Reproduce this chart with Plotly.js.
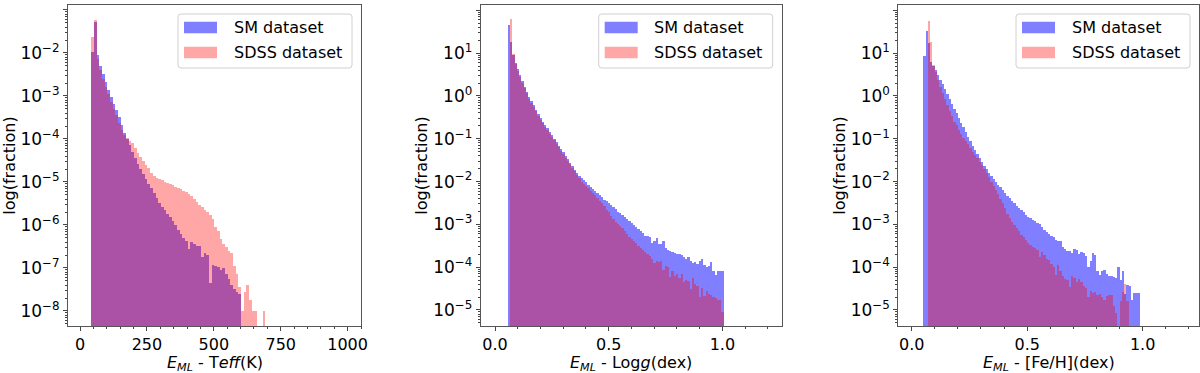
<!DOCTYPE html>
<html>
<head>
<meta charset="utf-8">
<script src="https://cdn.plot.ly/plotly-3.0.1.min.js"></script>
<style>
  html, body { margin: 0; padding: 0; background: #fff; }
  #chart { width: 1200px; height: 373px; }
</style>
</head>
<body>
<div id="chart"></div>
<script>
// bins of each histogram: start of first bin and bin width
const teffBinStart = 42, teffBinWidth = 10;
const loggBinStart = 0.056, loggBinWidth = 0.01;
const fehBinStart = 0.05, fehBinWidth = 0.01;

// log10(fraction) of every bin (null = empty bin)
const smTeff = [
  -1.98, -1.28, -2.05, -2.30, -2.50, -2.68, -2.85, -3.02, -3.18, -3.33,
  -3.50, -3.68, -3.85, -4.00, -4.15, -4.30, -4.45, -4.58, -4.70, -4.82,
  -4.93, -5.05, -5.15, -5.25, -5.38, -5.50, -5.58, -5.66, -5.74, -5.82,
  -5.90, -6.00, -6.12, -6.20, -6.30, -6.38, -6.55, -6.40, -6.45, -6.48,
  -6.50, -6.75, -6.65, -6.70, -7.35, -6.93, -6.95, -6.97, -7.05, -7.00,
  -7.15, -7.25, -7.40, -7.50, -7.55, -7.60
];
const sdssTeff = [
  -1.63, -1.24, -2.15, -2.40, -2.60, -2.78, -2.95, -3.13, -3.30, -3.45,
  -3.62, -3.78, -3.90, -3.97, -4.04, -4.10, -4.20, -4.32, -4.42, -4.52,
  -4.60, -4.68, -4.78, -4.85, -4.90, -4.93, -4.96, -4.99, -5.02, -5.05,
  -5.08, -5.11, -5.14, -5.17, -5.20, -5.24, -5.28, -5.33, -5.40, -5.46,
  -5.53, -5.58, -5.64, -5.70, -5.76, -5.85, -6.05, -6.15, -6.33, -6.45,
  -6.52, -6.60, -6.66, -6.95, -7.15, -7.45, -8.00, -7.55, -7.40, -7.75,
  -8.00, -8.00, null, null, -8.00
];

const smLogg = [
   1.66,  1.25,  0.95,  0.78,  0.62,  0.48,  0.34,  0.22,  0.10, -0.02,
  -0.12, -0.22, -0.32, -0.42, -0.52, -0.60, -0.68, -0.76, -0.84, -0.92,
  -1.00, -1.08, -1.16, -1.24, -1.32, -1.40, -1.48, -1.56, -1.64, -1.72,
  -1.79, -1.86, -1.92, -1.97, -2.02, -2.07, -2.12, -2.17, -2.22, -2.27,
  -2.32, -2.37, -2.42, -2.46, -2.50, -2.55, -2.60, -2.65, -2.70, -2.74,
  -2.78, -2.83, -2.88, -2.93, -2.97, -3.01, -3.05, -3.10, -3.16, -3.21,
  -3.26, -3.28, -3.30, -3.44, -3.38, -3.33, -3.47, -3.45, -3.40, -3.55,
  -3.60, -3.62, -3.65, -3.68, -3.70, -3.70, -3.72, -3.76, -3.80, -3.77,
  -3.85, -3.90, -3.87, -3.92, -3.85, -3.82, -3.95, -4.00, -3.98, -3.87,
  -4.10, -4.18, -4.10, -4.10, -4.10
];
const sdssLogg = [
   null,  1.79,  0.97,  0.75,  0.58,  0.44,  0.30,  0.18,  0.06, -0.06,
  -0.16, -0.26, -0.36, -0.46, -0.56, -0.64, -0.72, -0.80, -0.88, -0.96,
  -1.04, -1.12, -1.20, -1.28, -1.36, -1.44, -1.52, -1.60, -1.68, -1.76,
  -1.84, -1.92, -2.00, -2.05, -2.10, -2.16, -2.21, -2.26, -2.31, -2.38,
  -2.45, -2.51, -2.58, -2.66, -2.72, -2.80, -2.88, -2.94, -2.99, -3.04,
  -3.09, -3.15, -3.22, -3.29, -3.34, -3.40, -3.44, -3.50, -3.56, -3.60,
  -3.65, -3.70, -3.74, -3.80, -3.91, -3.85, -3.88, -3.85, -4.07, -3.98,
  -4.00, -4.22, -4.10, -4.20, -4.15, -4.25, -4.15, -4.34, -4.30, -4.32,
  -4.50, -4.25, -4.40, -4.45, -4.69, -4.48, -4.68, -4.55, -4.62, -4.66,
  -4.70, -4.72, -4.77, -4.77, -5.04
];

const smFeh = [
   0.94,  1.51,  1.23,  0.80,  0.70,  0.60,  0.48,  0.38,  0.28,  0.17,
   0.04, -0.07, -0.18, -0.30, -0.40, -0.52, -0.63, -0.73, -0.84, -0.95,
  -1.05, -1.16, -1.26, -1.36, -1.46, -1.55, -1.63, -1.71, -1.80, -1.87,
  -1.93, -2.00, -2.07, -2.13, -2.19, -2.26, -2.33, -2.39, -2.45, -2.51,
  -2.57, -2.62, -2.67, -2.72, -2.77, -2.82, -2.86, -2.90, -2.93, -2.96,
  -2.98, -3.05, -3.12, -3.17, -3.22, -3.26, -3.29, -3.36, -3.38, -3.40,
  -3.52, -3.58, -3.62, -3.63, -3.66, -3.58, -3.60, -3.70, -3.64, -3.68,
  -3.75, -3.99, -3.85, -3.68, -3.72, -4.10, -4.18, -4.10, -4.07, -4.15,
  -4.20, -4.20, -4.22, -4.25, -3.99, -4.30, -4.10, -4.62, -4.42, -4.45,
  -4.77, -4.61, -4.61, -4.61
];
const sdssFeh = [
   null,  null,  1.75,  1.26,  0.72,  0.55,  0.38,  0.20,  0.06, -0.08,
  -0.22, -0.35, -0.47, -0.60, -0.68, -0.80, -0.90, -0.98, -1.06, -1.13,
  -1.21, -1.30, -1.38, -1.46, -1.54, -1.62, -1.70, -1.80, -1.90, -2.00,
  -2.10, -2.20, -2.30, -2.40, -2.50, -2.62, -2.75, -2.85, -2.95, -3.02,
  -3.08, -3.15, -3.24, -3.30, -3.37, -3.44, -3.48, -3.52, -3.56, -3.60,
  -3.76, -3.65, -3.72, -3.80, -3.83, -3.92, -4.00, -4.18, -3.96, -4.10,
  -4.20, -4.28, -4.30, -4.46, -4.20, -4.25, -4.35, -4.28, -4.35, -4.45,
  -4.48, -4.69, -4.55, -4.60, -4.58, -4.65, -4.62, -4.70, -4.77, -4.68,
  -4.65, -4.66, -4.90, -5.08,  null, -4.80, -4.58, -4.39, -4.80
];

const seriesNames = ['SM dataset', 'SDSS dataset'];
const xTitles = [
  '<i>E</i><sub><i>ML</i></sub> - T<i>eff</i>(K)',
  '<i>E</i><sub><i>ML</i></sub> - Log<i>g</i>(dex)',
  '<i>E</i><sub><i>ML</i></sub> - [Fe/H](dex)'
];

const SM_COLOR = 'rgba(0,0,255,0.5)';
const SDSS_COLOR = 'rgba(255,0,0,0.35)';
const FONT = 'DejaVu Sans, Liberation Sans, sans-serif';
const W = 1200, H = 373;
const MB = 47;            // bottom margin holds the x tick labels and titles
const PH = H - MB;        // plot-area height in px

function histTrace(logVals, start, width, color, axisIdx) {
  const sfx = axisIdx === 1 ? '' : axisIdx;
  return {
    type: 'bar',
    x: logVals.map((v, i) => start + width * (i + 0.5)),
    y: logVals.map(v => v === null ? null : Math.pow(10, v)),
    width: width,
    marker: { color: color, line: { width: 0 } },
    xaxis: 'x' + sfx,
    yaxis: 'y' + sfx,
    showlegend: false,
    hoverinfo: 'x+y'
  };
}

const data = [
  histTrace(smTeff, teffBinStart, teffBinWidth, SM_COLOR, 1),
  histTrace(sdssTeff, teffBinStart, teffBinWidth, SDSS_COLOR, 1),
  histTrace(smLogg, loggBinStart, loggBinWidth, SM_COLOR, 2),
  histTrace(sdssLogg, loggBinStart, loggBinWidth, SDSS_COLOR, 2),
  histTrace(smFeh, fehBinStart, fehBinWidth, SM_COLOR, 3),
  histTrace(sdssFeh, fehBinStart, fehBinWidth, SDSS_COLOR, 3)
];

// log tick labels 10^n
function logTicks(lo, hi) {
  const vals = [], text = [], minor = [];
  for (let p = lo; p <= hi; p++) {
    vals.push(Math.pow(10, p));
    text.push('10<sup>' + (p < 0 ? '\u2212' + (-p) : p) + '</sup>');
  }
  for (let p = lo - 1; p <= hi; p++) {
    for (let m = 2; m <= 9; m++) minor.push(m * Math.pow(10, p));
  }
  return { vals, text, minor };
}

const axisStyle = {
  showline: true,
  mirror: true,
  linecolor: '#555',
  linewidth: 1,
  showgrid: false,
  zeroline: false,
  ticks: 'outside',
  ticklen: 4,
  tickwidth: 1,
  tickcolor: '#444',
  tickfont: { family: FONT, size: 17, color: '#000' },
  fixedrange: true
};

function xAxis(domain, range, dtick, minorDtick, fmt) {
  return Object.assign({}, axisStyle, {
    domain: domain,
    range: range,
    tick0: 0,
    dtick: dtick,
    tickformat: fmt,
    tickfont: { family: FONT, size: 16, color: '#000' },
    minor: { ticks: 'outside', ticklen: 2, tickcolor: '#444', dtick: minorDtick, tick0: 0, showgrid: false }
  });
}

function yAxis(lo, hi, range, anchor) {
  const t = logTicks(lo, hi);
  return Object.assign({}, axisStyle, {
    type: 'log',
    domain: [0, 1 - 5 / PH],
    range: range,
    anchor: anchor,
    tickmode: 'array',
    tickvals: t.vals,
    ticktext: t.text,
    minor: { ticks: 'outside', ticklen: 2, tickcolor: '#444', tickmode: 'array', tickvals: t.minor, showgrid: false },
    title: { text: 'log(fraction)', font: { family: FONT, size: 16, color: '#000' } }
  });
}

const shapes = [], annotations = [];
function px(x) { return x / W; }
function py(y) { return 1 - y / PH; }

// x titles placed under each axes, centred on it
['x', 'x2', 'x3'].forEach((ax, i) => {
  annotations.push({
    xref: ax + ' domain', yref: 'paper',
    x: 0.5, y: py(363),
    xanchor: 'center', yanchor: 'middle',
    text: xTitles[i], showarrow: false,
    font: { family: FONT, size: 16, color: '#000' }
  });
});

// legend drawn per panel, placed against the right edge of its axes (px)
function addLegend(rightPx) {
  const x0 = rightPx - 183, x1 = rightPx - 9, y0 = 14, y1 = 68, r = 3;
  const p = (x, y) => px(x) + ',' + py(y);
  shapes.push({
    type: 'path', xref: 'paper', yref: 'paper',
    path: 'M' + p(x0 + r, y0) + ' L' + p(x1 - r, y0) + ' Q' + p(x1, y0) + ' ' + p(x1, y0 + r) +
          ' L' + p(x1, y1 - r) + ' Q' + p(x1, y1) + ' ' + p(x1 - r, y1) +
          ' L' + p(x0 + r, y1) + ' Q' + p(x0, y1) + ' ' + p(x0, y1 - r) +
          ' L' + p(x0, y0 + r) + ' Q' + p(x0, y0) + ' ' + p(x0 + r, y0) + ' Z',
    fillcolor: 'rgba(255,255,255,0.8)',
    line: { color: '#d0d0d0', width: 1 }
  });
  [SM_COLOR, SDSS_COLOR].forEach((c, i) => {
    const cy = 27.5 + 25 * i;
    shapes.push({
      type: 'rect', xref: 'paper', yref: 'paper',
      x0: px(rightPx - 177), x1: px(rightPx - 144),
      y0: py(cy + 5.8), y1: py(cy - 5.8),
      fillcolor: c, line: { width: 0 }
    });
    annotations.push({
      xref: 'paper', yref: 'paper',
      x: px(rightPx - 129.5), y: py(cy),
      xanchor: 'left', yanchor: 'middle',
      text: seriesNames[i], showarrow: false,
      font: { family: FONT, size: 16, color: '#000' }
    });
  });
}
addLegend(361);
addLegend(781.7);
addLegend(1199);

const layout = {
  width: W,
  height: H,
  margin: { l: 0, r: 0, t: 0, b: MB },
  paper_bgcolor: '#fff',
  plot_bgcolor: '#fff',
  barmode: 'overlay',
  bargap: 0,
  font: { family: FONT, size: 16, color: '#000' },
  showlegend: false,

  xaxis:  xAxis([68 / W, 361 / W], [-45, 1050], 250, 50, 'd'),
  xaxis2: xAxis([480.7 / W, 781.7 / W], [-0.063, 1.261], 0.5, 0.1, '.1f'),
  xaxis3: xAxis([898.3 / W, 1199 / W], [-0.058, 1.244], 0.5, 0.1, '.1f'),

  yaxis:  yAxis(-8, -1, [-8.349, -0.884], 'x'),
  yaxis2: yAxis(-5, 2, [-5.374, 2.124], 'x2'),
  yaxis3: yAxis(-5, 2, [-5.374, 2.124], 'x3'),

  shapes: shapes,
  annotations: annotations
};
layout.xaxis.anchor = 'y';
layout.xaxis2.anchor = 'y2';
layout.xaxis3.anchor = 'y3';

Plotly.newPlot('chart', data, layout, { displayModeBar: false, staticPlot: true });
</script>
</body>
</html>
